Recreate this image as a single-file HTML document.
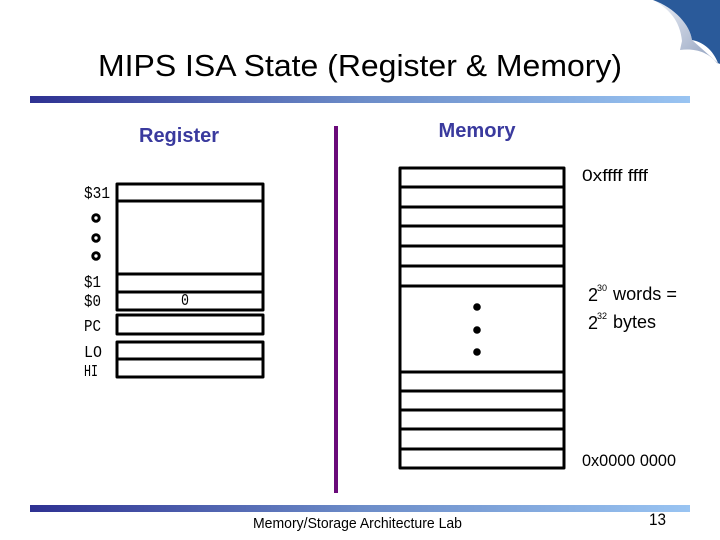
<!DOCTYPE html>
<html><head><meta charset="utf-8"><style>
html,body{margin:0;padding:0;background:#fff}
svg{display:block}
.s{font-family:"Liberation Sans",sans-serif}
.m{font-family:"Liberation Mono",monospace;font-size:17px;fill:#000}
</style></head><body>
<svg width="720" height="540" viewBox="0 0 720 540" xmlns="http://www.w3.org/2000/svg">
<defs>
<linearGradient id="g" x1="0" x2="1" y1="0" y2="0"><stop offset="0" stop-color="#2e3192"/><stop offset="0.5" stop-color="#6c8cc8"/><stop offset="1" stop-color="#99c4f2"/></linearGradient>
<linearGradient id="c" x1="0" x2="1" y1="0" y2="1"><stop offset="0" stop-color="#eef1f7"/><stop offset="0.6" stop-color="#b4bfd4"/><stop offset="1" stop-color="#8a9cbc"/></linearGradient>
</defs>
<rect width="720" height="540" fill="#fff"/>
<path d="M653 0 C668 8 680 20 682 41 L680 50 C695 48 708 52 717 63 L719 64 L692 40 C690 25 675 8 653 0Z" fill="url(#c)"/>
<path d="M653 0 C675 8 690 25 692 40 C703 42 713 50 718 63 L720 64 L720 0Z" fill="#2a5a9a"/>
<rect x="30" y="96" width="660" height="7" fill="url(#g)"/>
<rect x="30" y="505" width="660" height="7" fill="url(#g)"/>
<text class="s" x="360" y="76" font-size="31" text-anchor="middle" fill="#000" textLength="524" lengthAdjust="spacingAndGlyphs">MIPS ISA State (Register &amp; Memory)</text>
<text class="s" x="179" y="142" font-size="20" font-weight="bold" text-anchor="middle" fill="#3a3a9e" textLength="80" lengthAdjust="spacingAndGlyphs">Register</text>
<text class="s" x="477" y="137" font-size="20" font-weight="bold" text-anchor="middle" fill="#3a3a9e" textLength="77" lengthAdjust="spacingAndGlyphs">Memory</text>
<rect x="334" y="126" width="4" height="367" fill="#6a0a7a"/>
<g fill="none" stroke="#000" stroke-width="3" stroke-linejoin="round">
<rect x="117" y="184" width="146" height="126"/>
<path d="M117 201H263M117 274H263M117 292H263"/>
<rect x="117" y="315" width="146" height="19"/>
<rect x="117" y="342" width="146" height="35"/>
<path d="M117 359H263"/>
<rect x="400" y="168" width="164" height="300"/>
<path d="M400 187H564M400 207H564M400 226H564M400 246H564M400 266H564M400 286H564M400 372H564M400 391H564M400 410H564M400 429H564M400 449H564"/>
<circle cx="96" cy="218" r="3.2"/><circle cx="96" cy="238" r="3.2"/><circle cx="96" cy="256" r="3.2"/>
</g>
<circle cx="477" cy="307" r="3.8"/><circle cx="477" cy="330" r="3.8"/><circle cx="477" cy="352" r="3.8"/>
<text class="m" x="84" y="198" textLength="26" lengthAdjust="spacingAndGlyphs">$31</text>
<text class="m" x="84" y="287" textLength="17" lengthAdjust="spacingAndGlyphs">$1</text>
<text class="m" x="84" y="306" textLength="17" lengthAdjust="spacingAndGlyphs">$0</text>
<text class="m" x="181" y="305" textLength="8" lengthAdjust="spacingAndGlyphs">0</text>
<text class="m" x="84" y="331" textLength="17" lengthAdjust="spacingAndGlyphs">PC</text>
<text class="m" x="84" y="357" textLength="18" lengthAdjust="spacingAndGlyphs">LO</text>
<text class="m" x="84" y="376" textLength="14" lengthAdjust="spacingAndGlyphs">HI</text>
<g class="s" fill="#000">
<text x="582" y="181" font-size="17" textLength="66" lengthAdjust="spacingAndGlyphs">0xffff ffff</text>
<text x="588" y="301" font-size="18">2</text><text x="597" y="291" font-size="9">30</text><text x="613" y="300" font-size="18" textLength="64" lengthAdjust="spacingAndGlyphs">words =</text>
<text x="588" y="329" font-size="18">2</text><text x="597" y="319" font-size="9">32</text><text x="613" y="328" font-size="18" textLength="43" lengthAdjust="spacingAndGlyphs">bytes</text>
<text x="582" y="466" font-size="17" textLength="94" lengthAdjust="spacingAndGlyphs">0x0000 0000</text>
<text x="253" y="528" font-size="15" textLength="209" lengthAdjust="spacingAndGlyphs">Memory/Storage Architecture Lab</text>
<text x="649" y="525" font-size="17" textLength="17" lengthAdjust="spacingAndGlyphs">13</text>
</g>
</svg>
</body></html>
